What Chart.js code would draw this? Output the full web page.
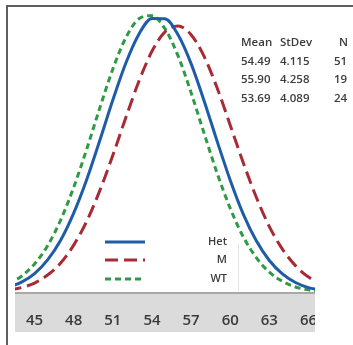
<!DOCTYPE html>
<html>
<head>
<meta charset="utf-8">
<script src="https://cdn.jsdelivr.net/npm/chart.js@4"></script>
<style>
  html, body { margin: 0; padding: 0; background: #fff; }
  #wrap { width: 353px; height: 345px; position: relative; }
</style>
</head>
<body>
<div id="wrap"><canvas id="chart"></canvas></div>
<script>
// x positions of the fitted curves
const xValues = [43, 44, 45, 46, 47, 48, 49, 50, 51, 52, 53, 54, 55, 56, 57, 58, 59, 60, 61, 62, 63, 64, 65, 66, 67];

// fitted normal densities
const hetValues = [0.0020, 0.0038, 0.0068, 0.0116, 0.0185, 0.0280, 0.0398, 0.0535, 0.0677, 0.0807, 0.0908, 0.0963, 0.0962,
  0.0906, 0.0805, 0.0674, 0.0532, 0.0396, 0.0277, 0.0183, 0.0114, 0.0067, 0.0037, 0.0019, 0.0010];
const mValues = [0.0010, 0.0019, 0.0035, 0.0063, 0.0105, 0.0168, 0.0252, 0.0359, 0.0483, 0.0616, 0.0743, 0.0848, 0.0916,
  0.0937, 0.0906, 0.0830, 0.0719, 0.0589, 0.0457, 0.0336, 0.0233, 0.0154, 0.0096, 0.0056, 0.0031];
const wtValues = [0.0032, 0.0059, 0.0102, 0.0166, 0.0256, 0.0371, 0.0505, 0.0649, 0.0786, 0.0896, 0.0962, 0.0973, 0.0927,
  0.0832, 0.0703, 0.0560, 0.0420, 0.0297, 0.0197, 0.0124, 0.0073, 0.0041, 0.0021, 0.0011, 0.0005];

const seriesNames = ['Het', 'M', 'WT'];
const tickValues = [45, 48, 51, 54, 57, 60, 63, 66];

// summary table
const statHeaders = ['Mean', 'StDev', 'N'];
const means = ['54.49', '55.90', '53.69'];
const stDevs = ['4.115', '4.258', '4.089'];
const counts = ['51', '19', '24'];

const textColor = '#3c3c3c';

function toPoints(vals) {
  return xValues.map((x, i) => ({ x: x, y: vals[i] }));
}

// background band, frame, legend and stats table
const decor = {
  id: 'decor',
  beforeDraw(chart) {
    const ctx = chart.ctx;
    const ca = chart.chartArea;
    ctx.save();
    ctx.fillStyle = '#fff';
    ctx.fillRect(0, 0, chart.width, chart.height);
    ctx.fillStyle = '#dbdbdb';
    ctx.fillRect(ca.left, ca.bottom, ca.right - ca.left, 332 - ca.bottom);
    ctx.strokeStyle = '#a8a8a8';
    ctx.lineWidth = 2;
    ctx.beginPath();
    ctx.moveTo(ca.left, ca.bottom);
    ctx.lineTo(ca.right, ca.bottom);
    ctx.stroke();
    // faint divider next to the legend
    ctx.strokeStyle = '#e4e4e4';
    ctx.lineWidth = 1;
    ctx.beginPath();
    ctx.moveTo(238.5, 244);
    ctx.lineTo(238.5, 291);
    ctx.stroke();
    ctx.restore();
  },
  afterDraw(chart) {
    const ctx = chart.ctx;
    const ca = chart.chartArea;
    ctx.save();
    // the reference is cropped at the band edge
    ctx.fillStyle = '#fff';
    ctx.fillRect(ca.right, ca.bottom + 1, chart.width - ca.right, chart.height - ca.bottom);

    // frame
    ctx.strokeStyle = '#5e5e5e';
    ctx.lineWidth = 2;
    ctx.beginPath();
    ctx.moveTo(7, chart.height);
    ctx.lineTo(7, 6);
    ctx.lineTo(chart.width, 6);
    ctx.stroke();

    // legend
    ctx.font = '600 11px "Open Sans"';
    ctx.fillStyle = textColor;
    ctx.textAlign = 'right';
    ctx.textBaseline = 'middle';
    const legendY = [242, 260, 279];
    chart.data.datasets.forEach((ds, i) => {
      ctx.strokeStyle = ds.borderColor;
      ctx.lineWidth = ds.borderWidth;
      ctx.setLineDash(ds.borderDash || []);
      ctx.beginPath();
      ctx.moveTo(105, legendY[i]);
      ctx.lineTo(145, legendY[i]);
      ctx.stroke();
      ctx.setLineDash([]);
      ctx.fillText(ds.label, 227, legendY[i]);
    });

    // stats table
    ctx.font = '600 11.5px "Open Sans"';
    ctx.textAlign = 'left';
    const colX = [241, 280, 339];
    const rowY = [43, 62, 80, 99];
    statHeaders.forEach((h, j) => ctx.fillText(h, colX[j], rowY[0]));
    means.forEach((m, i) => {
      ctx.fillText(m, colX[0], rowY[i + 1]);
      ctx.fillText(stDevs[i], colX[1], rowY[i + 1]);
      ctx.fillText(counts[i], colX[2] - 5, rowY[i + 1]);
    });
    ctx.restore();
  }
};

new Chart(document.getElementById('chart'), {
  type: 'line',
  data: {
    datasets: [{
      label: seriesNames[0],
      data: toPoints(hetValues),
      borderColor: '#1f5ca8',
      borderWidth: 3,
      cubicInterpolationMode: 'monotone',
      pointRadius: 0,
      fill: false
    },
    {
      label: seriesNames[1],
      data: toPoints(mValues),
      borderColor: '#a82a35',
      borderWidth: 3,
      borderDash: [13, 6],
      cubicInterpolationMode: 'monotone',
      pointRadius: 0,
      fill: false
    },
    {
      label: seriesNames[2],
      data: toPoints(wtValues),
      borderColor: '#2e9a45',
      borderWidth: 3,
      borderDash: [6, 4],
      cubicInterpolationMode: 'monotone',
      pointRadius: 0,
      fill: false
    }]
  },
  options: {
    responsive: true,
    maintainAspectRatio: false,
    animation: false,
    layout: { padding: { left: 15, right: 38, top: 8, bottom: 15 } },
    plugins: {
      legend: { display: false },
      tooltip: { enabled: false }
    },
    scales: {
      x: {
        type: 'linear',
        min: 43.5,
        max: 66.5,
        afterBuildTicks: (scale) => {
          scale.ticks = tickValues.map(v => ({ value: v }));
        },
        afterFit: (scale) => {
          scale.height = 37;
        },
        grid: { display: false, drawTicks: false },
        border: { display: false },
        ticks: {
          padding: 19,
          color: '#3a3a3a',
          font: { family: 'Open Sans', size: 15, weight: '600' },
          maxRotation: 0,
          autoSkip: false
        }
      },
      y: {
        display: false,
        min: 0,
        max: 0.1
      }
    }
  },
  plugins: [decor]
});
</script>
</body>
</html>
